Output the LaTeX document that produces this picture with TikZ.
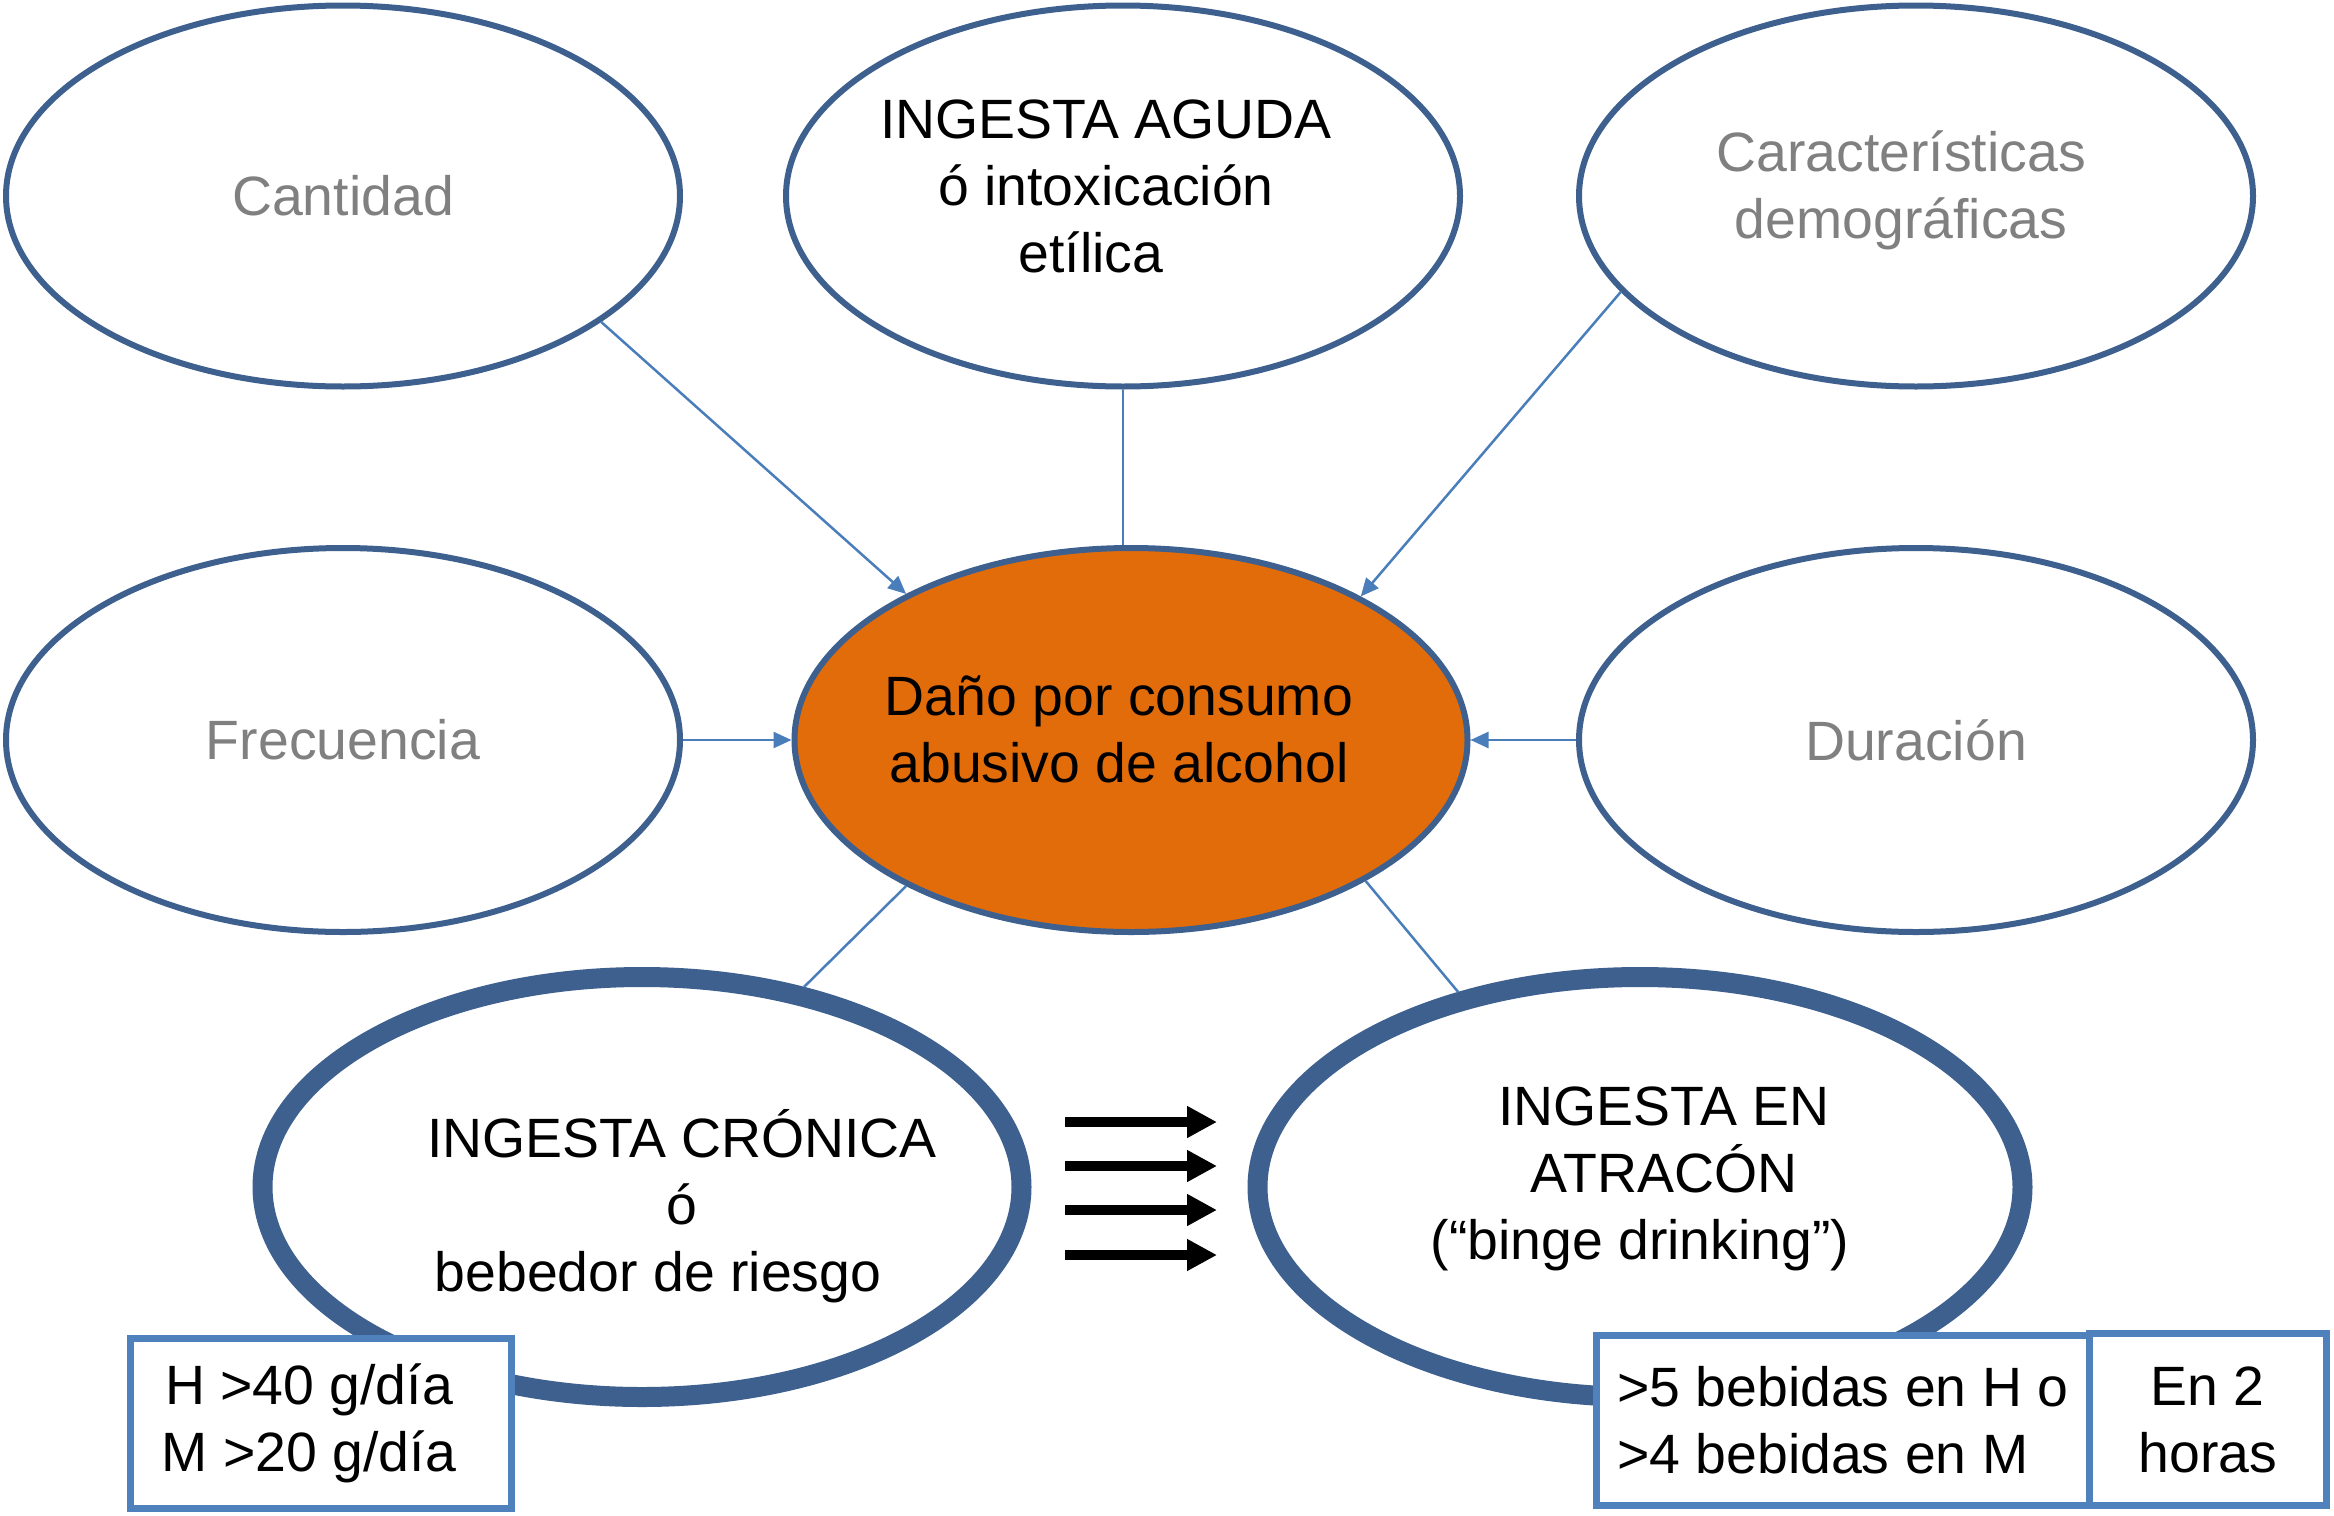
\documentclass[tikz,border=0pt]{standalone}
\usepackage{fontspec}
\setmainfont{Liberation Sans}
\usetikzlibrary{shapes.geometric,arrows.meta}
\definecolor{ellblue}{RGB}{62,96,143}
\definecolor{boxblue}{RGB}{79,129,189}
\definecolor{conblue}{RGB}{74,126,187}
\definecolor{orangefill}{RGB}{227,108,10}
\definecolor{graytxt}{RGB}{128,128,128}
\begin{document}
\begin{tikzpicture}[x=0.5pt,y=-0.5pt,
  every node/.style={font=\fontsize{27.7}{33.5}\selectfont},
  ell/.style={ellipse, draw=ellblue, line width=3pt, fill=white, inner sep=0pt, minimum width=337pt, minimum height=190.5pt, align=center},
  thickell/.style={ellipse, draw=ellblue, line width=10pt, fill=white, inner sep=0pt, minimum height=210pt, align=center},
  infobox/.style={rectangle, draw=boxblue, line width=3.5pt, fill=white, inner sep=0pt},
  conn/.style={draw=conblue, line width=1.25pt},
  connarrow/.style={conn, -{Triangle[length=9pt,width=8pt]}},
  fat/.style={line width=5.3pt, -{Triangle[length=15pt,width=15pt]}},
]
\useasboundingbox (0,0) rectangle (2334,1515);

% top row
\node[ell, text=graytxt] (cant) at (343,196) {Cantidad};
\node[ell, label={[name=agudaT, align=center, xshift=-8.5pt, yshift=5pt]center:{INGESTA AGUDA\\ó intoxicación\\etílica\hspace*{15pt}}}] (aguda) at (1123,196) {};
\node[ell, label={[name=caracT, align=center, text=graytxt, xshift=-7.5pt, yshift=3pt]center:{Características\\demográficas}}] (carac) at (1916,196) {};

% middle row
\node[ell, minimum height=192pt, text=graytxt] (frec) at (343,740) {Frecuencia};
\node[ell, minimum height=192pt, minimum width=336.5pt, fill=orangefill, label={[name=centT, align=center, xshift=-6pt, yshift=5.5pt]center:{Daño por consumo\\abusivo de alcohol}}] (cent) at (1131,740) {};
\node[ell, minimum height=192pt, text=graytxt] (dur) at (1916,740) {Duración};

% bottom row
\node[thickell, minimum width=379.5pt, label={[name=cronT, align=center, xshift=20pt, yshift=-9.5pt]center:{INGESTA CRÓNICA\\ó\\bebedor de riesgo\hspace*{24pt}}}] (cron) at (642,1187) {};
\node[thickell, minimum width=382.5pt, label={[name=atrT, align=center, xshift=12pt, yshift=4pt]center:{INGESTA EN\\ATRACÓN\\(“binge drinking”)\hspace*{24pt}}}] (atr) at (1640,1187) {};

% connectors
\draw[connarrow] (cant.-26) -- (cent.147);
\draw[conn] (aguda.south) -- (aguda.south |- cent.north);
\draw[connarrow] (carac.-162) -- (cent.32);
\draw[connarrow] (frec.east) -- (cent.west);
\draw[connarrow] (dur.west) -- (cent.east);
\draw[conn] (cent.-147) -- (cron.51);
\draw[conn] (cent.-31) -- (atr.133.6);

% fat arrows
\foreach \i/\yy in {1/1122,2/1166,3/1210,4/1255} {
  \coordinate (s\i) at (1065,\yy);
  \coordinate (e\i) at (1217,\yy);
  \draw[fat] (s\i) -- (e\i);
}

% boxes
\node[infobox, minimum width=190.5pt, minimum height=85pt, align=center] (hbox) at (321,1423.5) {H >40 g/día\hspace*{12pt}\\M >20 g/día\hspace*{12pt}};
\node[infobox, minimum width=246.25pt, minimum height=85pt, align=left] (bbox) at (1842.75,1420.5) {>5 bebidas en H o\\>4 bebidas en M};
\node[infobox, minimum width=118.75pt, minimum height=86pt, align=center] (tbox) at (2207.75,1419.5) {En 2\\horas};
\end{tikzpicture}
\end{document}
